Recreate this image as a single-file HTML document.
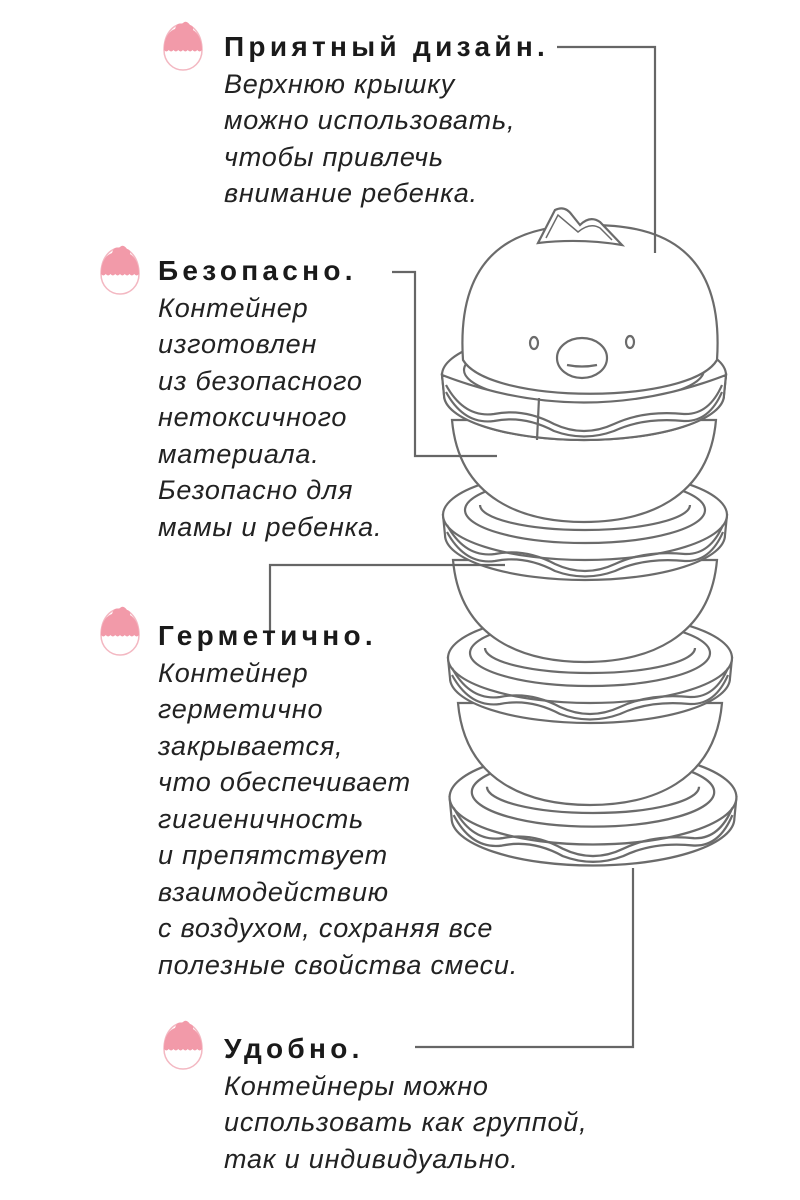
<!DOCTYPE html>
<html><head><meta charset="utf-8"><style>
body{margin:0;width:800px;height:1200px;background:#fff;position:relative;overflow:hidden;font-family:"Liberation Sans",sans-serif;color:#222}
.t{position:absolute;font-size:27px;letter-spacing:0.8px;line-height:36.5px;white-space:nowrap}
.t b{font-weight:bold;color:#1a1a1a;font-size:28px;letter-spacing:4.3px}
.t i{display:block}
svg{position:absolute;left:0;top:0}
</style></head><body>
<svg width="800" height="1200" viewBox="0 0 800 1200">
<defs>
<g id="egg">
<path d="M-19,2 C-19,-14 -10,-24 0,-24 C10,-24 19,-14 19,2 C19,14 10,22 0,22 C-10,22 -19,14 -19,2Z" fill="#fff" stroke="#f3b8c2" stroke-width="1.5"/>
<path d="M-19,2 C-19,-10 -14,-17 -8,-19 Q-6,-26 -1,-24 Q3,-29 7,-23 Q11,-22 10,-18 C15,-15 19,-8 19,2 q-2.4,3 -4.75,0 q-2.4,3 -4.75,0 q-2.4,3 -4.75,0 q-2.4,3 -4.75,0 q-2.4,3 -4.75,0 q-2.4,3 -4.75,0 q-2.4,3 -4.75,0 q-2.4,3 -4.75,0Z" fill="#f29aa9"/>
</g>
<g id="ring" fill="#fff" stroke="#6b6b6b" stroke-width="2.2">
<path d="M-142,45 L-140,65 A140,45 0 0 0 140,65 L142,45 Z"/>
<ellipse cx="0" cy="45" rx="142" ry="45"/>
<ellipse cx="0" cy="40" rx="120" ry="33"/>
<path d="M-105,35 A105,25 0 0 0 105,35" fill="none"/>
<path d="M-138,55 Q-120,88 -90,84 Q-60,78 -30,94 Q0,108 30,94 Q60,80 100,84 Q125,85 138,55" fill="none"/>
<path d="M-138,62 Q-120,95 -90,91 Q-60,85 -30,101 Q0,112 30,101 Q60,87 100,91 Q125,92 138,62" fill="none"/>
</g>
<g id="front" fill="#fff" stroke="#6b6b6b" stroke-width="2.2">
<path d="M-142,45 Q0,100 142,45 L140,65 A140,45 0 0 1 -140,65Z"/>
<path d="M-138,55 Q-120,88 -90,84 Q-60,78 -30,94 Q0,108 30,94 Q60,80 100,84 Q125,85 138,55" fill="none"/>
<path d="M-138,62 Q-120,95 -90,91 Q-60,85 -30,101 Q0,112 30,101 Q60,87 100,91 Q125,92 138,62" fill="none"/>
</g>
<path id="bowl" d="M-132,90 C-125,170 -60,192 0,192 C60,192 125,170 132,90 Z" fill="#fff" stroke="#6b6b6b" stroke-width="2.2"/>
</defs>
<use href="#ring" transform="translate(593,750) scale(1.01,1.05)"/>
<use href="#bowl" transform="translate(590,613)"/>
<use href="#ring" transform="translate(590,613)"/>
<use href="#bowl" transform="translate(585,470)"/>
<use href="#ring" transform="translate(585,470)"/>
<use href="#bowl" transform="translate(584,330)"/>
<use href="#ring" transform="translate(584,330)"/>
<g fill="#fff" stroke="#6b6b6b" stroke-width="2.2">
<path d="M463,360 C455,240 530,225 590,225 C650,225 725,240 717,360 C690,405 490,405 463,360Z"/>
<path d="M538,243 L555,210 Q565,205 572,215 L580,225 Q590,215 600,222 L622,245 Q580,238 538,243Z"/>
<path d="M546,238 L558,215 L578,232 Q590,222 600,228 L612,240" fill="none" stroke-width="1.5"/>
<ellipse cx="534" cy="343" rx="4" ry="6"/>
<ellipse cx="630" cy="342" rx="4" ry="6"/>
<ellipse cx="582" cy="358" rx="25" ry="20"/>
<path d="M567,365 Q582,368 597,365" fill="none"/>
</g>
<use href="#front" transform="translate(584,330)"/>
<path d="M539,398 L537,440" stroke="#6b6b6b" stroke-width="2.2"/>
<g fill="none" stroke="#666" stroke-width="2.2">
<polyline points="557,47 655,47 655,253"/>
<polyline points="392,272 415,272 415,456 497,456"/>
<polyline points="270,632 270,565 505,565"/>
<polyline points="633,868 633,1047 415,1047"/>
</g>
<use href="#egg" x="183" y="48"/>
<use href="#egg" x="120" y="272"/>
<use href="#egg" x="120" y="633"/>
<use href="#egg" x="183" y="1047"/>
</svg>
<div class="t" style="left:224px;top:29px"><b>Приятный дизайн.</b><i>Верхнюю крышку</i><i>можно использовать,</i><i>чтобы привлечь</i><i>внимание ребенка.</i></div>
<div class="t" style="left:158px;top:253px"><b>Безопасно.</b><i>Контейнер</i><i>изготовлен</i><i>из безопасного</i><i>нетоксичного</i><i>материала.</i><i>Безопасно для</i><i>мамы и ребенка.</i></div>
<div class="t" style="left:158px;top:618px"><b>Герметично.</b><i>Контейнер</i><i>герметично</i><i>закрывается,</i><i>что обеспечивает</i><i>гигиеничность</i><i>и препятствует</i><i>взаимодействию</i><i>с воздухом, сохраняя все</i><i>полезные свойства смеси.</i></div>
<div class="t" style="left:224px;top:1031px"><b>Удобно.</b><i>Контейнеры можно</i><i>использовать как группой,</i><i>так и индивидуально.</i></div>
</body></html>
